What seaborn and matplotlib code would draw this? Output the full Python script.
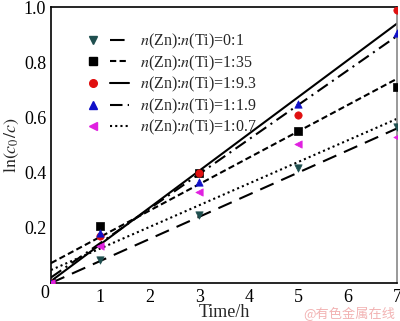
import numpy as np
import pandas as pd
import matplotlib
matplotlib.use("Agg")
import matplotlib.pyplot as plt
import matplotlib.transforms as mtransforms
import seaborn as sns
from matplotlib.lines import Line2D
from matplotlib.legend_handler import HandlerTuple

# ---- data ----
times = [0, 1, 3, 5, 7]
labels = ["0:1", "1:35", "1:9.3", "1:1.9", "1:0.7"]
y_01 = [0.0, 0.083, 0.245, 0.415, 0.565]
y_135 = [0.0, 0.206, 0.397, 0.552, 0.71]
y_193 = [0.0, 0.17, 0.397, 0.607, 0.99]
y_119 = [0.0, 0.18, 0.365, 0.65, 0.905]
y_107 = [0.0, 0.134, 0.33, 0.505, 0.53]
# fitted line ends (t=0 and t=7)
fit_t = [0, 7]
fit_01 = [0.0, 0.56]
fit_135 = [0.072, 0.74]
fit_193 = [0.007, 0.94]
fit_119 = [0.02, 0.895]
fit_107 = [0.047, 0.595]

series_y = [y_01, y_135, y_193, y_119, y_107]
series_fit = [fit_01, fit_135, fit_193, fit_119, fit_107]
colors = ["#1f4f4f", "#000000", "#e01010", "#1010c8", "#e020e0"]
markers = ["v", "s", "o", "^", "<"]
dashes = [(7, 4), (3, 1.6), (), (6, 2.5, 1, 2.5), (1, 1.5)]

sns.set_theme(style="white")
plt.rcParams["font.family"] = ["Liberation Serif", "DejaVu Serif"]
plt.rcParams["mathtext.fontset"] = "stix"

fig = plt.figure(figsize=(4.0, 3.21), dpi=100)
ax = fig.add_axes([51 / 400, 1 - 283 / 321, 346 / 400, 276 / 321])

handles = []
for lab, ys, fit, c, m, d in zip(labels, series_y, series_fit, colors, markers, dashes):
    df_pts = pd.DataFrame({"t": times, "y": ys})
    df_fit = pd.DataFrame({"t": fit_t, "y": fit})
    sns.scatterplot(data=df_pts, x="t", y="y", ax=ax, color=c, marker=m,
                    s=28, edgecolor=c, linewidth=0.5, zorder=3)
    sns.lineplot(data=df_fit, x="t", y="y", ax=ax, color="black", lw=1.5,
                 zorder=2)
    ln = ax.lines[-1]
    if d:
        ln.set_dashes(d)
    mh = Line2D([], [], marker=m, color=c, linestyle="none", markersize=5.5)
    lh = Line2D([], [], color="black", lw=1.5)
    if d:
        lh.set_dashes(d)
    handles.append(((mh, lh), "$n$(Zn):$n$(Ti)=" + lab))

ax.set_xlim(0, 7)
ax.set_ylim(0, 1.0)
ax.set_xticks(range(0, 8))
ax.set_xticklabels([str(i) for i in range(0, 8)])
ax.set_yticks([0.2, 0.4, 0.6, 0.8, 1.0])
ax.set_yticklabels(["0.2", "0.4", "0.6", "0.8", "1.0"])
ax.tick_params(direction="in", length=5, width=1, labelsize=13, colors="black")
ax.tick_params(axis="x", pad=4)
for s in ax.spines.values():
    s.set_color("black")
    s.set_linewidth(1.2)
ax.spines["right"].set_color("#888888")

ax.set_xlabel("Time/h", fontsize=13, labelpad=-1)
ax.set_ylabel(r"$\ln(c_0/c)$", fontsize=13, labelpad=2)

leg = ax.legend([h for h, _ in handles], [l for _, l in handles],
                handler_map={tuple: HandlerTuple(ndivide=None, pad=0.45)},
                loc="upper left", bbox_to_anchor=(0.06, 0.951), frameon=False,
                fontsize=11.5, handlelength=2.9, handletextpad=0.7,
                labelspacing=0.15, borderpad=0.2)

fig.canvas.draw()
lbl0 = ax.xaxis.get_major_ticks()[0].label1
lbl0.set_transform(lbl0.get_transform() +
                   mtransforms.ScaledTranslation(-6 / 100, 4 / 100, fig.dpi_scale_trans))

fig.text(0.988, 0.0, "@有色金属在线", ha="right", va="bottom", fontsize=9.5,
         color="#f2b3b3", family=["Noto Sans CJK SC", "DejaVu Sans"])

fig.savefig("out.png", dpi=100)
